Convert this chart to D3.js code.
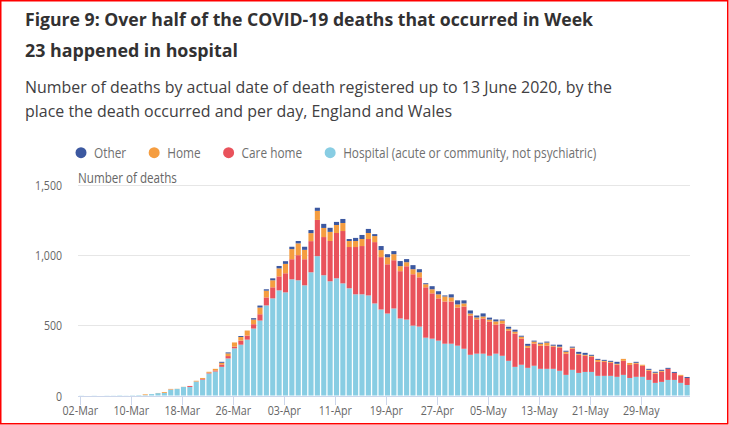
<!DOCTYPE html>
<html><head><meta charset="utf-8">
<script src="https://cdn.jsdelivr.net/npm/d3@7"></script>
<style>
body{margin:0;background:#fff;}
svg{display:block;font-family:"Open Sans",sans-serif;}
</style>
</head><body>
<svg id="chart" width="729" height="425"></svg>
<script>
// ---- data ----
const startDate = "2020-03-02";
const hospital = [1,0,1,0,1,1,2,1,2,3,
  3,10,17,18,42,47,61,61,99,113,157,171,204,264,336,362,398,477,534,642,
  692,749,735,828,821,785,878,993,857,814,835,799,764,721,721,713,656,613,584,620,
  549,541,498,491,412,405,391,369,369,355,333,290,298,298,283,298,283,247,204,219,
  197,212,190,190,190,176,147,183,161,168,168,140,140,140,133,147,125,133,133,111,
  90,97,111,111,90,75];
const careHome = [0,0,0,0,0,0,0,0,0,0,
  0,0,0,0,1,0,0,7,1,5,5,7,17,17,12,29,29,31,45,57,
  79,100,136,143,179,186,222,258,272,287,323,373,294,337,344,402,437,373,351,344,
  337,380,366,351,359,323,301,301,301,272,301,280,244,251,244,208,229,215,237,186,
  143,158,165,165,158,165,151,151,129,115,108,100,100,93,86,100,93,93,79,65,
  65,72,79,50,50,50];
const home = [0,0,0,0,0,0,0,0,0,0,
  5,0,1,6,4,1,1,0,5,7,7,12,12,19,30,26,36,33,48,48,
  50,57,67,72,84,67,57,65,65,65,57,57,43,43,50,43,43,50,50,43,
  36,29,36,36,22,29,29,36,29,22,22,14,14,14,14,22,22,14,14,14,
  14,14,14,22,7,7,14,7,7,7,7,14,7,7,7,14,14,7,7,7,
  7,7,0,0,7,0];
const other = [0,0,0,0,0,0,0,0,0,0,
  0,0,0,0,0,0,0,0,0,0,0,0,7,7,0,7,0,10,14,10,
  14,17,19,17,17,22,22,22,29,29,22,29,14,22,29,29,14,29,22,22,
  36,22,29,22,7,22,22,7,22,29,22,22,14,22,14,14,7,14,14,7,
  14,7,7,7,7,14,7,7,14,14,7,7,7,7,14,0,0,7,0,7,
  7,7,7,7,0,7];
const seriesNames = ["Hospital (acute or community, not psychiatric)", "Care home", "Home", "Other"];
const seriesColors = ["#88cde3", "#e9525b", "#f59d40", "#3c58a0"];
const legendNames = ["Other", "Home", "Care home", "Hospital (acute or community, not psychiatric)"];
const xTickLabels = ["02-Mar","10-Mar","18-Mar","26-Mar","03-Apr","11-Apr","19-Apr","27-Apr","05-May","13-May","21-May","29-May"];
const yTickValues = [0, 500, 1000, 1500];
const titleLines = ["Figure 9: Over half of the COVID-19 deaths that occurred in Week", "23 happened in hospital"];
const subtitleLines = ["Number of deaths by actual date of death registered up to 13 June 2020, by the", "place the death occurred and per day, England and Wales"];
const yAxisTitle = "Number of deaths";

// ---- setup ----
const svg = d3.select("#chart");
svg.append("rect").attr("x",0).attr("y",0).attr("width",729).attr("height",425).attr("fill","#fff");

function squish(sel, k){
  sel.each(function(){
    const w = this.getComputedTextLength();
    d3.select(this).attr("textLength", w*k).attr("lengthAdjust","spacingAndGlyphs");
  });
}

// titles
const titleTargets = [568, 213];
titleLines.forEach((t,i)=>{
  svg.append("text").attr("x",25).attr("y",25.7 + i*31.6)
    .attr("font-size",18).attr("font-weight",700).attr("fill","#323132")
    .attr("textLength", titleTargets[i]).attr("lengthAdjust","spacingAndGlyphs").text(t);
});
const subTargets = [587, 427];
subtitleLines.forEach((t,i)=>{
  svg.append("text").attr("x",25).attr("y",93.3 + i*24)
    .attr("font-size",15.5).attr("fill","#414042")
    .attr("textLength", subTargets[i]).attr("lengthAdjust","spacingAndGlyphs").text(t);
});

// scales
const parse = d3.timeParse("%Y-%m-%d");
const fmt = d3.timeFormat("%d-%b");
const d0 = parse(startDate);
const days = d3.timeDay.range(d0, d3.timeDay.offset(d0, hospital.length)).map(fmt);
const x = d3.scaleBand().domain(days).range([78.3, 690.3]).paddingInner(0.2).paddingOuter(0.1);
const y = d3.scaleLinear().domain([0,1500]).range([395.5, 185]);

// gridlines
const grid = svg.append("g");
grid.selectAll("line").data(yTickValues.filter(v=>v>0)).join("line")
  .attr("x1",78).attr("x2",690).attr("y1",d=>Math.round(y(d))+0.5).attr("y2",d=>Math.round(y(d))+0.5)
  .attr("stroke","#e6e6e6").attr("stroke-width",1);

// y labels
const yl = svg.append("g").selectAll("text").data(yTickValues).join("text")
  .attr("x",62).attr("y",d=>y(d)+5).attr("text-anchor","end")
  .attr("font-size",12).attr("fill","#666666").text(d=>d3.format(",")(d));
squish(yl, 0.88);

const yt = svg.append("text").attr("x",78).attr("y",183).attr("font-size",14).attr("fill","#666666").text(yAxisTitle);
squish(yt, 0.83);

// stacked bars
const rows = days.map((d,i)=>({day:d, h:hospital[i], c:careHome[i], o:home[i], t:other[i]}));
const stack = d3.stack().keys(["h","c","o","t"])(rows);
const gBars = svg.append("g");
stack.forEach((layer, li)=>{
  gBars.append("g").attr("fill", seriesColors[li]).selectAll("rect").data(layer).join("rect")
    .attr("x", d=>x(d.data.day)).attr("width", x.bandwidth())
    .attr("y", d=>y(d[1])).attr("height", d=>Math.max(0, y(d[0])-y(d[1])));
});

// x axis
const axisY = 396;
svg.append("line").attr("x1",78).attr("x2",690).attr("y1",axisY+0.5).attr("y2",axisY+0.5).attr("stroke","#ccd6eb");
const xt = svg.append("g");
const tickX = d=> x(d) + x.bandwidth()/2 - 1.2;
xt.selectAll("line").data(xTickLabels).join("line")
  .attr("x1",d=>Math.round(tickX(d))+0.5).attr("x2",d=>Math.round(tickX(d))+0.5)
  .attr("y1",axisY).attr("y2",axisY+9).attr("stroke","#ccd6eb");
const xtl = xt.selectAll("text").data(xTickLabels).join("text")
  .attr("x",d=>tickX(d)).attr("y",415).attr("text-anchor","middle")
  .attr("font-size",12).attr("fill","#666666").text(d=>d);
squish(xtl, 0.89);

// legend
const lg = svg.append("g");
let lx = 81;
legendNames.forEach(name=>{
  const idx = seriesNames.indexOf(name);
  lg.append("circle").attr("cx",lx).attr("cy",152.7).attr("r",5.5).attr("fill",seriesColors[idx]);
  const t = lg.append("text").attr("x",lx+13).attr("y",158.3).attr("font-size",14).attr("fill","#707070").text(name);
  squish(t, 0.845);
  const w = +t.attr("textLength");
  lx = lx + 13 + w + 28;
});

// frame
svg.append("rect").attr("x",0.75).attr("y",0.75).attr("width",727).attr("height",423)
  .attr("fill","none").attr("stroke","#ff0000").attr("stroke-width",1.5);
</script>
</body></html>
